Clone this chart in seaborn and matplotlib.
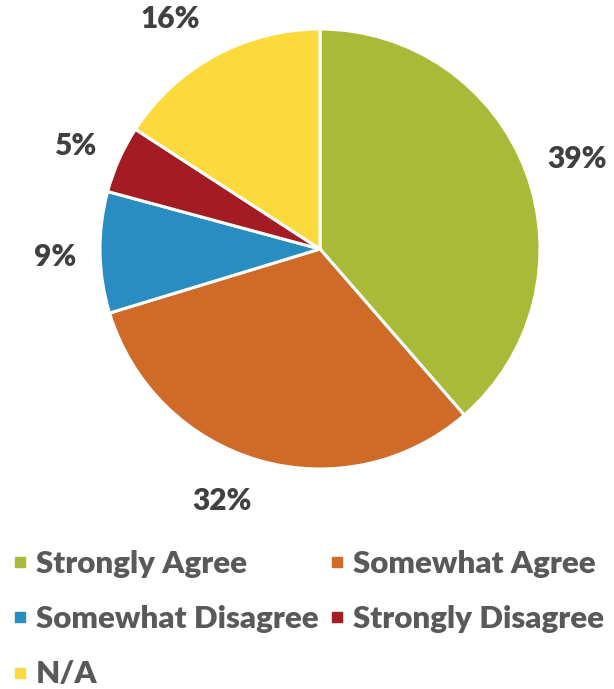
import matplotlib
matplotlib.use("Agg")
import matplotlib.pyplot as plt
import matplotlib.transforms as mtransforms
from matplotlib.lines import Line2D
import seaborn as sns

categories = ["Strongly Agree", "Somewhat Agree", "Somewhat Disagree",
              "Strongly Disagree", "N/A"]
values = [39, 32, 9, 5, 16]
colors = ["#A9BA38", "#CF6A28", "#2A8DC2", "#A41C23", "#FDDA3C"]

sns.set_theme(style="white")
plt.rcParams["font.family"] = ["Lato", "DejaVu Sans"]

W, H = 614, 689
fig = plt.figure(figsize=(W / 100, H / 100), dpi=100)
cx, cy, r = 320, 249, 220
ax = fig.add_axes([(cx - r) / W, (H - cy - r) / H, 2 * r / W, 2 * r / H])

wedges, texts = ax.pie(
    values,
    colors=colors,
    startangle=90,
    counterclock=False,
    labels=[f"{v}%" for v in values],
    labeldistance=1.22,
    wedgeprops=dict(edgecolor="white", linewidth=2.2),
    textprops=dict(fontsize=21.5, fontweight="heavy", color="#404040"),
)

# small per-label nudges (pixels) so the percentages sit clear of the rim
nudges = [(6, -4), (-24, 6), (3, -4), (0, -6), (-22, -6)]
for t, (dx, dy) in zip(texts, nudges):
    t.set_ha("center")
    t.set_va("center")
    t.set_transform(mtransforms.offset_copy(ax.transData, fig=fig,
                                            x=dx, y=dy, units="dots"))
ax.set_xlim(-1, 1)
ax.set_ylim(-1, 1)
ax.axis("off")

# legend reads row by row: reorder so column-major filling gives that order
order = [0, 2, 4, 1, 3]
handles = [Line2D([], [], linestyle="none", marker="s", markersize=7.5,
                  markerfacecolor=colors[i], markeredgecolor=colors[i])
           for i in order]
fig.legend(
    handles, [categories[i] for i in order],
    loc="upper left", bbox_to_anchor=(0.0, 1 - 537 / H),
    ncol=2, frameon=False,
    handlelength=0.45, handletextpad=0.3, columnspacing=0.35,
    labelspacing=0.88, borderaxespad=0,
    prop=dict(size=22.5, weight="heavy"),
    labelcolor="#595959",
)

fig.savefig("out.png", dpi=100, facecolor="white")
